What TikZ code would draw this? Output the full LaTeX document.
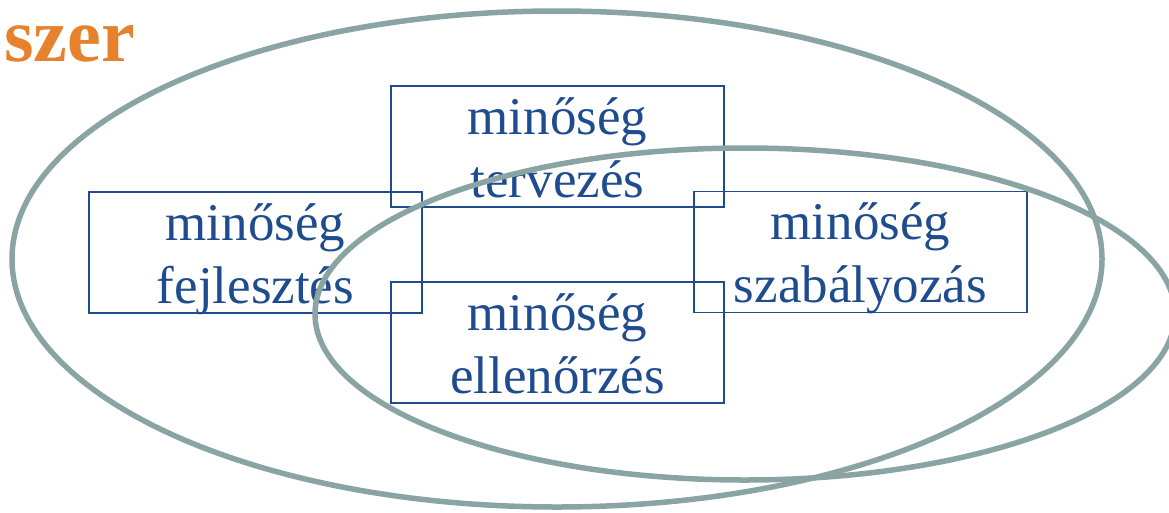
\documentclass[tikz,border=0pt]{standalone}
\usepackage{fontspec}
\setmainfont{Liberation Serif}
\usetikzlibrary{calc}
\definecolor{ringgray}{HTML}{8AA4A4}
\definecolor{boxblue}{HTML}{1E4C8E}
\definecolor{titleorange}{HTML}{E6822E}
\tikzset{
	qbox/.style={draw=boxblue, line width=1.6pt, text=boxblue, inner sep=0pt,
		text width=333pt, align=center, minimum width=333pt, minimum height=121pt,
		text height=48pt, text depth=73pt, font=\fontsize{53}{63}\selectfont},
	ring/.style={draw=ringgray, line width=5.5pt}
}

\begin{document}
\begin{tikzpicture}[x=1pt, y=-1pt]
	%%%%% START %%%%%
	\useasboundingbox (0, 0) rectangle (1169, 512);
	
	\node[anchor=base west, text=titleorange, inner sep=0pt, font=\fontsize{76}{80}\selectfont\bfseries] (title) at (4, 61) {szer};
	
	\node[qbox] (tervezes) at (557.5, 146.5) {minőség\\tervezés};
	\node[qbox] (fejlesztes) at (255.5, 252.5) {minőség\\fejlesztés};
	\node[qbox] (szabalyozas) at (860.5, 252) {minőség\\szabályozás};
	\node[qbox] (ellenorzes) at (557.5, 342.5) {minőség\\ellenőrzés};
	
	\draw[ring] (557, 259) ellipse [x radius=545, y radius=248];
	\draw[ring] (745, 314) ellipse [x radius=430, y radius=166];
	%%%%% END %%%%%
\end{tikzpicture}
\end{document}
